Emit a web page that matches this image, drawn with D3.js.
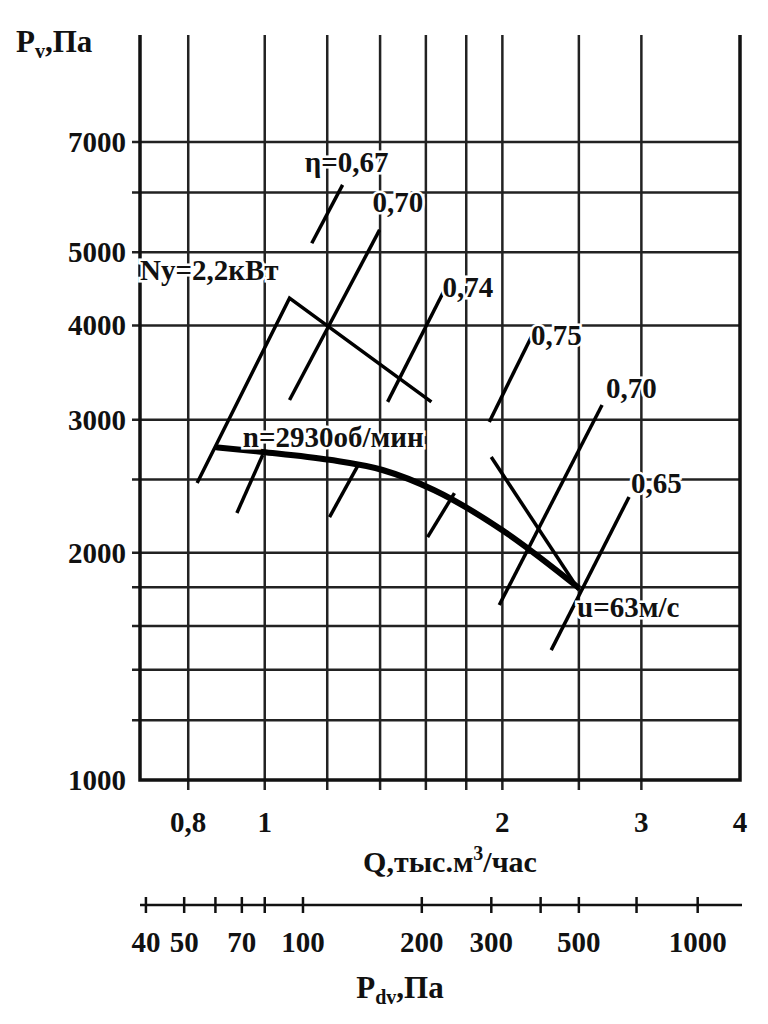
<!DOCTYPE html>
<html><head><meta charset="utf-8">
<script src="https://cdn.jsdelivr.net/npm/d3@7"></script>
<style>body{margin:0;background:#fff}text{font-family:"Liberation Serif",serif;font-weight:bold;fill:#111}</style>
</head><body><svg width="768" height="1024"></svg>
<script>
// axes
const qTicks = [0.8, 1, 2, 3, 4];
const qTickLabels = ['0,8', '1', '2', '3', '4'];
const qGrid = [0.8, 1, 1.2, 1.4, 1.6, 1.8, 2, 2.5, 3];
const pTicks = [1000, 2000, 3000, 4000, 5000, 7000];
const pGrid = [1200, 1400, 1600, 1800, 2000, 2500, 3000, 4000, 5000, 6000, 7000];
const pdvTicks = [40, 50, 60, 70, 80, 100, 200, 300, 400, 500, 700, 1000];
const pdvLabels = [40, 50, 70, 100, 200, 300, 500, 1000];

// pressure curve, n=2930 rpm
const pressQ = [0.865, 0.994, 1.208, 1.41, 1.64, 2.0, 2.5];
const pressP = [2760, 2720, 2655, 2574, 2420, 2142, 1796];
// power curve (drawn in pressure coordinates)
const powerQ = [0.821, 1.075, 1.626];
const powerP = [2474, 4348, 3168];
// efficiency leaders and marks: [Q1, P1, Q2, P2]
const effSegments = [
  [1.147, 5140, 1.255, 6140],
  [1.075, 3186, 1.398, 5353],
  [1.431, 3168, 1.689, 4457],
  [1.925, 2980, 2.176, 3862],
  [1.982, 1705, 2.675, 3138],
  [2.306, 1486, 2.894, 2371],
  [0.922, 2258, 0.994, 2694],
  [1.208, 2230, 1.318, 2630],
  [1.608, 2098, 1.739, 2399],
  [1.936, 2678, 2.5, 1785]
];
const labels = [
  ['η=0,67', 1.124, 6390], ['0,70', 1.369, 5652], ['Nу=2,2кВт', 0.695, 4596],
  ['0,74', 1.679, 4362], ['0,75', 2.174, 3770], ['n=2930об/мин', 0.938, 2761],
  ['0,70', 2.706, 3206], ['0,65', 2.911, 2399], ['u=63м/с', 2.487, 1644]
];

const svg = d3.select('svg');
const x = d3.scaleLog().domain([0.695, 4]).range([140, 740]);
const y = d3.scaleLog().domain([1000, 9700]).range([780, 35]);
const xPdv = d3.scaleLog().domain([80 * 0.695 * 0.695, 80 * 16]).range([140, 740]);

// grid
svg.selectAll('.vg').data(qGrid).join('line')
  .attr('x1', d => x(d)).attr('x2', d => x(d)).attr('y1', 35).attr('y2', 790)
  .attr('stroke', '#222').attr('stroke-width', 2.5);
svg.selectAll('.hg').data(pGrid).join('line')
  .attr('x1', 132).attr('x2', 740).attr('y1', d => y(d)).attr('y2', d => y(d))
  .attr('stroke', '#222').attr('stroke-width', 2.5);
// frame
svg.append('path').attr('d', 'M140,35V780H740V35').attr('fill', 'none')
  .attr('stroke', '#111').attr('stroke-width', 3.5);

// y labels
svg.selectAll('.yl').data(pTicks).join('text')
  .attr('x', 126).attr('y', d => y(d) + 10).attr('text-anchor', 'end')
  .attr('font-size', 29).text(d => d);
svg.append('text').attr('x', 16).attr('y', 52).attr('font-size', 31)
  .html('P<tspan font-size="20" dy="6">v</tspan><tspan dy="-6">,Па</tspan>');

// x labels
svg.selectAll('.xl').data(qTicks).join('text')
  .attr('x', d => x(d)).attr('y', 832).attr('text-anchor', 'middle')
  .attr('font-size', 29).text((d, i) => qTickLabels[i]);
svg.append('text').attr('x', 450).attr('y', 872).attr('text-anchor', 'middle').attr('font-size', 30)
  .html('Q,тыс.м<tspan font-size="20" dy="-12">3</tspan><tspan dy="12">/час</tspan>');

// Pdv axis
svg.append('line').attr('x1', 140).attr('x2', 742).attr('y1', 905).attr('y2', 905)
  .attr('stroke', '#111').attr('stroke-width', 2.5);
svg.selectAll('.pt').data(pdvTicks).join('line')
  .attr('x1', d => xPdv(d)).attr('x2', d => xPdv(d)).attr('y1', 897).attr('y2', 913)
  .attr('stroke', '#111').attr('stroke-width', 2.5);
svg.selectAll('.pl').data(pdvLabels).join('text')
  .attr('x', d => xPdv(d)).attr('y', 952).attr('text-anchor', 'middle')
  .attr('font-size', 29).text(d => d);
svg.append('text').attr('x', 400).attr('y', 998).attr('text-anchor', 'middle').attr('font-size', 31)
  .html('P<tspan font-size="20" dy="6">dv</tspan><tspan dy="-6">,Па</tspan>');

// curves
svg.append('path').datum(pressQ.map((q, i) => [q, pressP[i]]))
  .attr('d', d3.line().x(d => x(d[0])).y(d => y(d[1])).curve(d3.curveMonotoneX))
  .attr('fill', 'none').attr('stroke', '#000').attr('stroke-width', 6);
svg.append('path').datum(powerQ.map((q, i) => [q, powerP[i]]))
  .attr('d', d3.line().x(d => x(d[0])).y(d => y(d[1])))
  .attr('fill', 'none').attr('stroke', '#000').attr('stroke-width', 3.5);
svg.selectAll('.ef').data(effSegments).join('line')
  .attr('x1', d => x(d[0])).attr('y1', d => y(d[1])).attr('x2', d => x(d[2])).attr('y2', d => y(d[3]))
  .attr('stroke', '#000').attr('stroke-width', 3.5);

// annotations with white backing
svg.selectAll('.lb').data(labels).join('text')
  .attr('x', d => x(d[1])).attr('y', d => y(d[2])).attr('font-size', 29)
  .attr('stroke', '#fff').attr('stroke-width', 5).attr('paint-order', 'stroke')
  .text(d => d[0]);
</script></body></html>
